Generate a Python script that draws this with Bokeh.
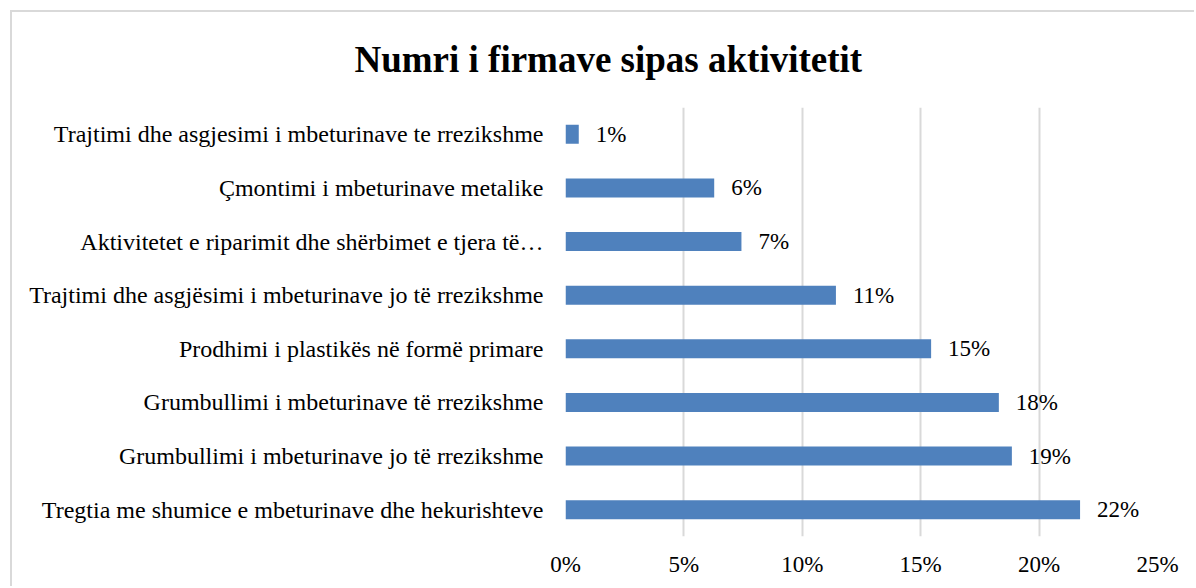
from bokeh.plotting import figure
from bokeh.models import (ColumnDataSource, FactorRange, Range1d, NumeralTickFormatter,
                          FixedTicker, LabelSet)
from bokeh.embed import file_html
from bokeh.resources import INLINE

# Data (top to bottom as in the chart)
categories = [
    "Trajtimi dhe asgjesimi i mbeturinave te rrezikshme",
    "Çmontimi i mbeturinave metalike",
    "Aktivitetet e riparimit dhe shërbimet e tjera të…",
    "Trajtimi dhe asgjësimi i mbeturinave jo të rrezikshme",
    "Prodhimi i plastikës në formë primare",
    "Grumbullimi i mbeturinave të rrezikshme",
    "Grumbullimi i mbeturinave jo të rrezikshme",
    "Tregtia me shumice e mbeturinave dhe hekurishteve",
]
shares = [0.0056, 0.0628, 0.0743, 0.1142, 0.1544, 0.1830, 0.1885, 0.2173]
labels = ["1%", "6%", "7%", "11%", "15%", "18%", "19%", "22%"]
x_ticks = [0, 0.05, 0.10, 0.15, 0.20, 0.25]
title_text = "Numri i firmave sipas aktivitetit"

FONT = "Liberation Serif"

source = ColumnDataSource(dict(cat=categories, share=shares, label=labels))

p = figure(
    width=1184, height=576,
    y_range=FactorRange(factors=list(reversed(categories))),
    x_range=Range1d(0, 0.25),
    output_backend="svg", toolbar_location=None,
    min_border_left=553, min_border_right=39,
    min_border_top=95, min_border_bottom=52,
)
p.styles = {"margin-left": "10px", "margin-top": "10px",
            "border-top": "2px solid #d9d9d9", "border-left": "2px solid #d9d9d9"}

p.hbar(y="cat", left=0, right="share", height=0.354, source=source,
       fill_color="#4f81bd", line_color=None)

labels_set = LabelSet(x="share", y="cat", text="label", source=source,
                      x_offset=17, text_baseline="middle",
                      text_font=FONT, text_font_size="23px", text_color="#000000")
p.add_layout(labels_set)

# Axes
p.xaxis.ticker = FixedTicker(ticks=x_ticks)
p.xaxis.formatter = NumeralTickFormatter(format="0%")
p.xaxis.axis_line_color = None
p.xaxis.major_tick_line_color = None
p.xaxis.minor_tick_line_color = None
p.xaxis.major_label_text_font = FONT
p.xaxis.major_label_text_font_size = "23px"
p.xaxis.major_label_text_color = "#000000"
p.xaxis.major_label_standoff = 9

p.yaxis.axis_line_color = None
p.yaxis.major_tick_line_color = None
p.yaxis.minor_tick_line_color = None
p.yaxis.major_tick_out = 0
p.yaxis.major_label_text_font = FONT
p.yaxis.major_label_text_font_size = "24px"
p.yaxis.major_label_text_color = "#000000"
p.yaxis.major_label_standoff = 22

p.xgrid.grid_line_color = "#d9d9d9"
p.xgrid.grid_line_width = 2
p.ygrid.grid_line_color = None
p.outline_line_color = None

# Title
p.title.text = title_text
p.title.text_font = FONT
p.title.text_font_size = "37px"
p.title.text_font_style = "bold"
p.title.text_color = "#000000"
p.title.align = "left"
p.title.offset = -211
p.title.vertical_align = "top"
p.title.standoff = 52

open("out.html", "w").write(file_html(p, INLINE))
